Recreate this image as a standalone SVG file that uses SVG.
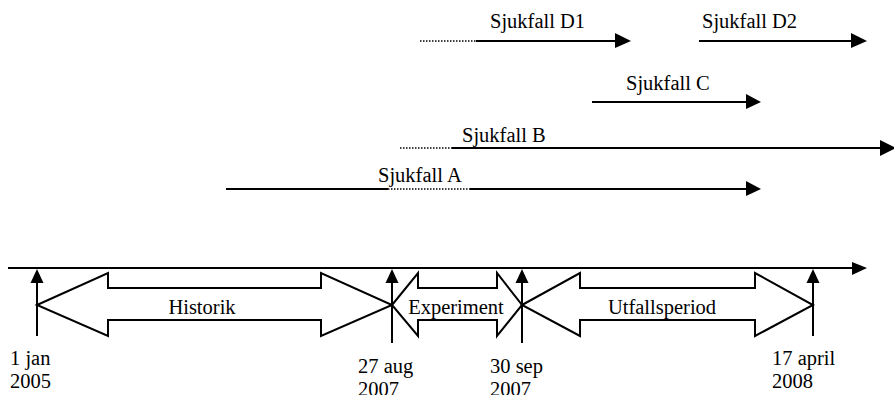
<svg xmlns="http://www.w3.org/2000/svg" width="894" height="395" viewBox="0 0 894 395">
  <style>
    .line { stroke: #000; stroke-width: 2; fill: none; }
    .dot { stroke: #000; stroke-width: 1.4; stroke-dasharray: 1.5 1.5; fill: none; }
    .span { stroke: #000; stroke-width: 2; fill: #fff; stroke-linejoin: miter; }
    .head { fill: #000; }
  </style>

  <!-- Sick-leave cases -->
  <g id="case-d1">
    <line class="dot" x1="420" y1="41" x2="476" y2="41"/>
    <line class="line" x1="476" y1="41" x2="616" y2="41"/>
    <polygon class="head" points="615,33 631,41 615,48"/>
    <text x="490" y="28" font-family="Liberation Serif" font-size="20.5">Sjukfall D1</text>
  </g>
  <g id="case-d2">
    <line class="line" x1="699" y1="41" x2="853" y2="41"/>
    <polygon class="head" points="851,33 867,41 851,48"/>
    <text x="702" y="28" font-family="Liberation Serif" font-size="20.5">Sjukfall D2</text>
  </g>
  <g id="case-c">
    <line class="line" x1="592" y1="102" x2="747" y2="102"/>
    <polygon class="head" points="746,94 761,102 746,109"/>
    <text x="626" y="90" font-family="Liberation Serif" font-size="20.5">Sjukfall C</text>
  </g>
  <g id="case-b">
    <line class="dot" x1="400" y1="148" x2="452" y2="148"/>
    <line class="line" x1="452" y1="148" x2="882" y2="148"/>
    <polygon class="head" points="880,140 896,148 880,156"/>
    <text x="462" y="142" font-family="Liberation Serif" font-size="20.5">Sjukfall B</text>
  </g>
  <g id="case-a">
    <line class="line" x1="226" y1="189" x2="388" y2="189"/>
    <line class="dot" x1="388" y1="189" x2="470" y2="189"/>
    <line class="line" x1="470" y1="189" x2="747" y2="189"/>
    <polygon class="head" points="746,181 761,189 746,196"/>
    <text x="378" y="182" font-family="Liberation Serif" font-size="20.5">Sjukfall A</text>
  </g>

  <!-- Time axis -->
  <g id="axis">
    <line class="line" x1="8" y1="268" x2="853" y2="268"/>
    <polygon class="head" points="852,262 867,268 852,275"/>
  </g>

  <!-- Period spans (double-headed block arrows) -->
  <g id="span-historik">
    <polygon class="span" points="37,305 108,273 108,288 321,288 321,273 392,305 321,336 321,320 108,320 108,336"/>
    <text x="202" y="314" text-anchor="middle" font-family="Liberation Serif" font-size="20.5">Historik</text>
  </g>
  <g id="span-experiment">
    <polygon class="span" points="392,305 418,273 418,288 497,288 497,273 522,305 497,336 497,320 418,320 418,336"/>
    <text x="456" y="314" text-anchor="middle" font-family="Liberation Serif" font-size="20.5">Experiment</text>
  </g>
  <g id="span-utfall">
    <polygon class="span" points="522,305 580,273 580,288 755,288 755,273 813,305 755,336 755,320 580,320 580,336"/>
    <text x="662" y="314" text-anchor="middle" font-family="Liberation Serif" font-size="20.5">Utfallsperiod</text>
  </g>

  <!-- Date markers -->
  <g id="date-2005">
    <line class="line" x1="37" y1="280" x2="37" y2="336"/>
    <polygon class="head" points="37,269 43.5,283 30.5,283"/>
    <text x="10" y="365" font-family="Liberation Serif" font-size="20.5">1 jan</text>
    <text x="10" y="388" font-family="Liberation Serif" font-size="20.5">2005</text>
  </g>
  <g id="date-aug2007">
    <line class="line" x1="392" y1="280" x2="392" y2="343"/>
    <polygon class="head" points="392,269 398.5,283 385.5,283"/>
    <text x="358" y="373" font-family="Liberation Serif" font-size="20.5">27 aug</text>
    <text x="358" y="396" font-family="Liberation Serif" font-size="20.5">2007</text>
  </g>
  <g id="date-sep2007">
    <line class="line" x1="522" y1="280" x2="522" y2="343"/>
    <polygon class="head" points="522,269 528.5,283 515.5,283"/>
    <text x="490" y="373" font-family="Liberation Serif" font-size="20.5">30 sep</text>
    <text x="490" y="396" font-family="Liberation Serif" font-size="20.5">2007</text>
  </g>
  <g id="date-2008">
    <line class="line" x1="813" y1="280" x2="813" y2="336"/>
    <polygon class="head" points="813,269 819.5,283 806.5,283"/>
    <text x="772" y="365" font-family="Liberation Serif" font-size="20.5">17 april</text>
    <text x="772" y="388" font-family="Liberation Serif" font-size="20.5">2008</text>
  </g>
</svg>
